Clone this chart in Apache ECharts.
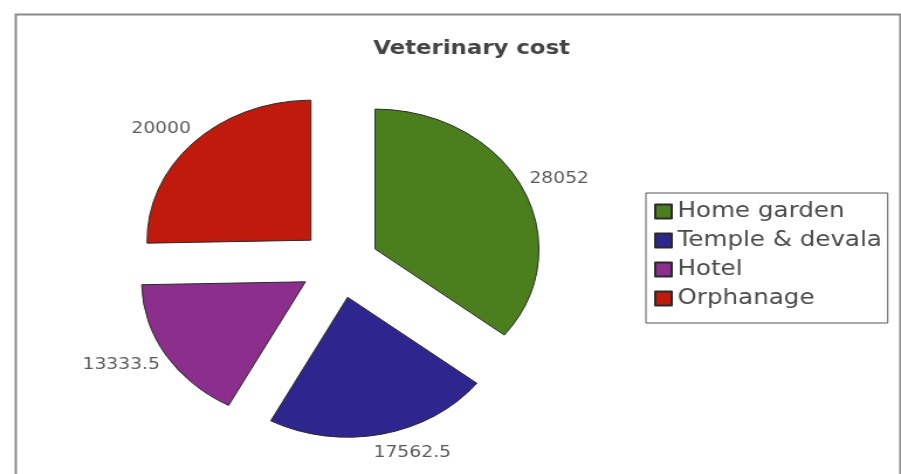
<!DOCTYPE html>
<html>
<head>
<meta charset="utf-8">
<script src="https://cdn.jsdelivr.net/npm/echarts@6/dist/echarts.min.js"></script>
<style>
  html, body { margin: 0; padding: 0; background: #fff; overflow: hidden; }
  /* the source picture is stretched sideways, so the chart is too */
  #main { width: 770px; height: 474px; transform: scaleX(1.1701); transform-origin: 0 0; }
</style>
</head>
<body>
<div id="main"></div>
<script>
// 数据
const categories = ['Home garden', 'Temple & devala', 'Hotel', 'Orphanage'];
const costs = [28052, 17562.5, 13333.5, 20000];
const sliceColors = ['#4b7f1e', '#2e268e', '#8c2f8c', '#bf1a0c'];

const myChart = echarts.init(document.getElementById('main'));

const pieData = categories.map((name, i) => ({
  name: name,
  value: costs[i],
  selected: true,
  itemStyle: { color: sliceColors[i] }
}));

const option = {
  animation: false,
  title: {
    text: 'Veterinary cost',
    left: 314,
    top: 34,
    textStyle: { fontFamily: 'DejaVu Sans', fontSize: 19.5, fontWeight: 'bold', color: '#444' }
  },
  legend: {
    orient: 'vertical',
    left: 552,
    top: 193,
    icon: 'rect',
    itemWidth: 14,
    itemHeight: 14,
    itemGap: 8,
    padding: [8, 5, 14, 7],
    borderColor: '#555',
    borderWidth: 1,
    textStyle: { fontFamily: 'DejaVu Sans', fontSize: 21, lineHeight: 21, color: '#4a4a4a', padding: [0, 0, 0, 0] },
    data: categories
  },
  graphic: [{
    type: 'rect',
    left: 11,
    top: 12,
    shape: { width: 756, height: 480 },
    style: { fill: 'none', stroke: '#8a8a8a', lineWidth: 2 },
    silent: true
  }],
  series: [{
    type: 'pie',
    center: [290, 264],
    radius: 140,
    startAngle: 90,
    clockwise: true,
    selectedMode: 'multiple',
    selectedOffset: 34,
    avoidLabelOverlap: false,
    itemStyle: { borderColor: '#2a2a2a', borderWidth: 1 },
    select: { itemStyle: { borderColor: '#2a2a2a', borderWidth: 1 } },
    label: {
      show: true,
      position: 'outside',
      formatter: '{c}',
      fontFamily: 'DejaVu Sans',
      fontSize: 16,
      color: '#5a5a5a'
    },
    labelLine: { show: false, length: 19, length2: -16 },
    data: pieData
  }]
};

myChart.setOption(option);
</script>
</body>
</html>
